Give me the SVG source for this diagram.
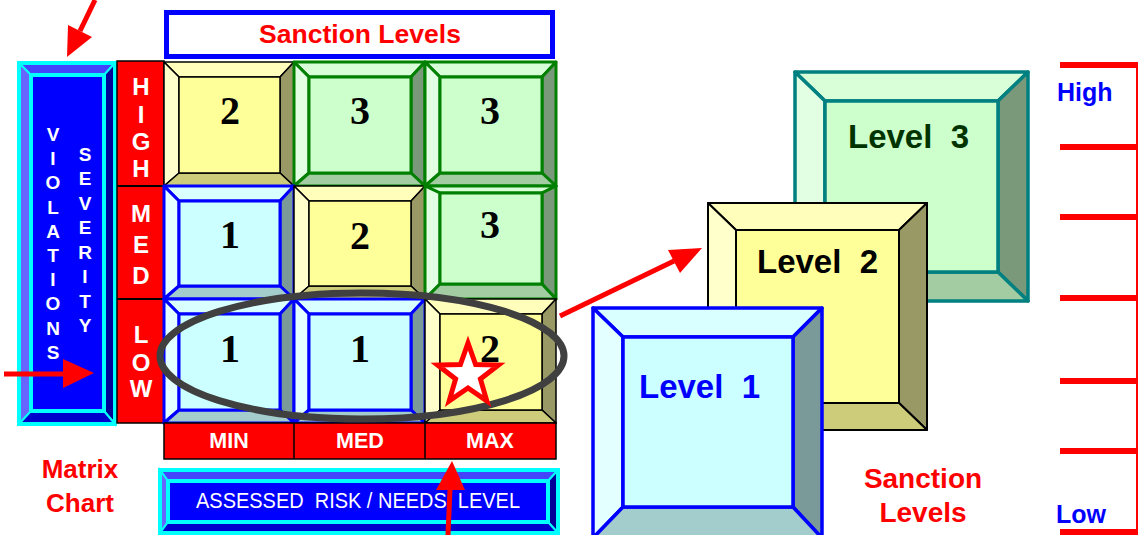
<svg xmlns="http://www.w3.org/2000/svg" width="1138" height="535" viewBox="0 0 1138 535">
<style>
.sans{font-family:"Liberation Sans",Arial,sans-serif;font-weight:bold}
.serif{font-family:"Liberation Serif","Times New Roman",serif;font-weight:bold;font-size:40px;text-anchor:middle;fill:#000}
.wl{fill:#fff;font-size:21.5px;text-anchor:middle}
.yel polygon,.yel rect{stroke:#000;stroke-width:1.5;stroke-linejoin:round}
.yel .t{fill:#FFFFBB}.yel .l{fill:#FFFFCC}.yel .r{fill:#999966}.yel .b{fill:#CCCC7A}.yel .i{fill:#FFFF99}
.grn polygon,.grn rect{stroke:#008000;stroke-width:3;stroke-linejoin:round}
.grn .t,.teal .t{fill:#D9FFD9}.grn .l,.teal .l{fill:#E3FFE3}.grn .r,.teal .r{fill:#7A997A}.grn .b,.teal .b{fill:#A3CCA3}.grn .i,.teal .i{fill:#CCFFCC}
.teal polygon,.teal rect{stroke:#008080;stroke-width:3.5;stroke-linejoin:round}
.blu polygon,.blu rect{stroke:#0000FF;stroke-width:3;stroke-linejoin:round}
.blu .t{fill:#D9FFFF}.blu .l{fill:#E3FFFF}.blu .r{fill:#7A9999}.blu .b{fill:#A3CCCC}.blu .i{fill:#CCFFFF}
.navy polygon{stroke:#00FFFF;stroke-width:2}
.navy .t{fill:#4444FF}.navy .l{fill:#6666FF}.navy .r{fill:#000099}.navy .b{fill:#0000CC}
.navy rect{stroke:#00FFFF;stroke-width:4}
.red{fill:#FF0000}
.arrow{stroke:#FF0000;stroke-width:5;fill:none}
.head{fill:#FF0000}
.tick{fill:#FF0000}
</style>

<g id="violations-severity" class="navy">
  <polygon class="t" points="19,63 115,63 104,75 31,75"/>
  <polygon class="l" points="19,63 31,75 31,411 19,424"/>
  <polygon class="r" points="115,63 115,424 104,411 104,75"/>
  <polygon class="b" points="19,424 31,411 104,411 115,424"/>
  <rect x="19" y="63" width="96" height="361" fill="none"/>
  <rect x="31" y="75" width="73" height="336" fill="#0000FF"/>
  <g class="sans" fill="#fff" font-size="19" text-anchor="middle">
    <text x="53" y="141">V</text><text x="53" y="165">I</text><text x="53" y="189">O</text><text x="53" y="214">L</text><text x="53" y="238">A</text><text x="53" y="262">T</text><text x="53" y="286">I</text><text x="53" y="310">O</text><text x="53" y="335">N</text><text x="53" y="359">S</text>
    <text x="85" y="161">S</text><text x="85" y="185">E</text><text x="85" y="210">V</text><text x="85" y="234">E</text><text x="85" y="259">R</text><text x="85" y="283">I</text><text x="85" y="308">T</text><text x="85" y="332">Y</text>
  </g>
</g>

<g id="severity-levels">
  <rect x="117" y="61" width="47" height="362" fill="#FF0000" stroke="#000" stroke-width="1.5"/>
  <line x1="117" y1="186" x2="164" y2="186" stroke="#000" stroke-width="2"/>
  <line x1="117" y1="299" x2="164" y2="299" stroke="#000" stroke-width="2"/>
  <g class="sans" fill="#fff" font-size="24" text-anchor="middle">
    <text x="141" y="95">H</text><text x="141" y="123">I</text><text x="141" y="150">G</text><text x="141" y="177">H</text>
    <text x="141" y="222">M</text><text x="141" y="253">E</text><text x="141" y="284">D</text>
    <text x="141" y="343">L</text><text x="141" y="371">O</text><text x="141" y="397">W</text>
  </g>
</g>

<g id="sanction-title">
  <rect x="166.5" y="12.5" width="386" height="44" fill="#fff" stroke="#0000FF" stroke-width="5"/>
  <text class="sans red" x="360" y="43" font-size="26.5" text-anchor="middle">Sanction Levels</text>
</g>

<g id="cell-r1c1" class="yel">
  <polygon class="t" points="164,62 294,62 280,77 179,77"/><polygon class="l" points="164,62 179,77 179,173 164,186"/>
  <polygon class="r" points="294,62 294,186 280,173 280,77"/><polygon class="b" points="164,186 179,173 280,173 294,186"/>
  <rect class="i" x="179" y="77" width="101" height="96"/>
  <text class="serif" x="230" y="124">2</text>
</g>
<g id="cell-r1c2" class="grn">
  <polygon class="t" points="294,62 425,62 411,77 309,77"/><polygon class="l" points="294,62 309,77 309,173 294,186"/>
  <polygon class="r" points="425,62 425,186 411,173 411,77"/><polygon class="b" points="294,186 309,173 411,173 425,186"/>
  <rect class="i" x="309" y="77" width="102" height="96"/>
  <text class="serif" x="360" y="124">3</text>
</g>
<g id="cell-r1c3" class="grn">
  <polygon class="t" points="425,62 556,62 542,77 440,77"/><polygon class="l" points="425,62 440,77 440,173 425,186"/>
  <polygon class="r" points="556,62 556,186 542,173 542,77"/><polygon class="b" points="425,186 440,173 542,173 556,186"/>
  <rect class="i" x="440" y="77" width="102" height="96"/>
  <text class="serif" x="490" y="124">3</text>
</g>
<g id="cell-r2c1" class="blu">
  <polygon class="t" points="164,186 294,186 280,201 179,201"/><polygon class="l" points="164,186 179,201 179,286 164,299"/>
  <polygon class="r" points="294,186 294,299 280,286 280,201"/><polygon class="b" points="164,299 179,286 280,286 294,299"/>
  <rect class="i" x="179" y="201" width="101" height="85"/>
  <text class="serif" x="230" y="248">1</text>
</g>
<g id="cell-r2c2" class="yel">
  <polygon class="t" points="294,186 425,186 411,201 309,201"/><polygon class="l" points="294,186 309,201 309,286 294,299"/>
  <polygon class="r" points="425,186 425,299 411,286 411,201"/><polygon class="b" points="294,299 309,286 411,286 425,299"/>
  <rect class="i" x="309" y="201" width="102" height="85"/>
  <text class="serif" x="360" y="249">2</text>
</g>
<g id="cell-r2c3" class="grn">
  <polygon class="t" points="425,186 556,186 542,193 440,193"/><polygon class="l" points="425,186 440,193 440,284 425,299"/>
  <polygon class="r" points="556,186 556,299 542,284 542,193"/><polygon class="b" points="425,299 440,284 542,284 556,299"/>
  <rect class="i" x="440" y="193" width="102" height="91"/>
  <text class="serif" x="490" y="238">3</text>
</g>
<g id="cell-r3c1" class="blu">
  <polygon class="t" points="164,299 294,299 280,314 179,314"/><polygon class="l" points="164,299 179,314 179,410 164,423"/>
  <polygon class="r" points="294,299 294,423 280,410 280,314"/><polygon class="b" points="164,423 179,410 280,410 294,423"/>
  <rect class="i" x="179" y="314" width="101" height="96"/>
  <text class="serif" x="230" y="362">1</text>
</g>
<g id="cell-r3c2" class="blu">
  <polygon class="t" points="294,299 425,299 411,314 309,314"/><polygon class="l" points="294,299 309,314 309,410 294,423"/>
  <polygon class="r" points="425,299 425,423 411,410 411,314"/><polygon class="b" points="294,423 309,410 411,410 425,423"/>
  <rect class="i" x="309" y="314" width="102" height="96"/>
  <text class="serif" x="360" y="362">1</text>
</g>
<g id="cell-r3c3" class="yel">
  <polygon class="t" points="425,299 556,299 542,314 440,314"/><polygon class="l" points="425,299 440,314 440,410 425,423"/>
  <polygon class="r" points="556,299 556,423 542,410 542,314"/><polygon class="b" points="425,423 440,410 542,410 556,423"/>
  <rect class="i" x="440" y="314" width="102" height="96"/>
  <text class="serif" x="490" y="362">2</text>
</g>

<g id="risk-levels">
  <rect x="164" y="423" width="392" height="36" fill="#FF0000" stroke="#000" stroke-width="1.5"/>
  <line x1="294" y1="423" x2="294" y2="459" stroke="#000" stroke-width="1.5"/>
  <line x1="425" y1="423" x2="425" y2="459" stroke="#000" stroke-width="1.5"/>
  <text class="sans wl" x="229" y="448">MIN</text>
  <text class="sans wl" x="360" y="448">MED</text>
  <text class="sans wl" x="490" y="448">MAX</text>
</g>

<g id="assessed-risk" class="navy">
  <polygon class="t" points="160,470 558,470 548,481 168,481"/>
  <polygon class="l" points="160,470 168,481 168,522 160,533"/>
  <polygon class="r" points="558,470 558,533 548,522 548,481"/>
  <polygon class="b" points="160,533 168,522 548,522 558,533"/>
  <rect x="160" y="470" width="398" height="63" fill="none"/>
  <rect x="168" y="481" width="380" height="41" fill="#0000FF"/>
  <text x="358" y="508" font-family="Liberation Sans,Arial,sans-serif" font-size="22" fill="#fff" text-anchor="middle" xml:space="preserve" textLength="324" lengthAdjust="spacingAndGlyphs">ASSESSED  RISK / NEEDS  LEVEL</text>
</g>

<g id="matrix-label">
  <text class="sans red" font-size="26" text-anchor="middle"><tspan x="80" y="478">Matrix</tspan><tspan x="80" y="512">Chart</tspan></text>
</g>

<g id="highlight">
  <ellipse cx="362" cy="356" rx="202" ry="63" fill="none" stroke="#404040" stroke-width="7"/>
  <polygon points="468,343 475.6,364.5 498.4,365.1 480.4,379 486.8,400.9 468,388 449.2,400.9 455.6,379 437.6,365.1 460.4,364.5" fill="#fff" stroke="#FF0000" stroke-width="5" stroke-linejoin="miter"/>
</g>

<g id="level-3" class="teal">
  <polygon class="t" points="795,72 1028,72 998,101 825,101"/><polygon class="l" points="795,72 825,101 825,272 795,301"/>
  <polygon class="r" points="1028,72 1028,301 998,272 998,101"/><polygon class="b" points="795,301 825,272 998,272 1028,301"/>
  <rect class="i" x="825" y="101" width="173" height="171"/>
  <text class="sans" x="848" y="148" font-size="33" fill="#003300" xml:space="preserve">Level  3</text>
</g>
<g id="level-2" class="yel">
  <polygon class="t" points="708,203 927,203 899,230 736,230" style="stroke-width:2"/><polygon class="l" points="708,203 736,230 736,403 708,430" style="stroke-width:2"/>
  <polygon class="r" points="927,203 927,430 899,403 899,230" style="stroke-width:2"/><polygon class="b" points="708,430 736,403 899,403 927,430" style="stroke-width:2"/>
  <rect class="i" x="736" y="230" width="163" height="173" style="stroke-width:2"/>
  <text class="sans" x="757" y="273" font-size="33" fill="#000" xml:space="preserve">Level  2</text>
</g>
<g id="level-1" class="blu">
  <polygon class="t" points="593,308 822,308 793,337 623,337" style="stroke-width:3.5"/><polygon class="l" points="593,308 623,337 623,507 593,538" style="stroke-width:3.5"/>
  <polygon class="r" points="822,308 822,538 793,507 793,337" style="stroke-width:3.5"/><polygon class="b" points="593,538 623,507 793,507 822,538" style="stroke-width:3.5"/>
  <rect class="i" x="623" y="337" width="170" height="170" style="stroke-width:3.5"/>
  <text class="sans" x="639" y="398" font-size="33" fill="#0000FF" xml:space="preserve">Level  1</text>
</g>

<g id="sanction-label">
  <text class="sans red" font-size="28" text-anchor="middle"><tspan x="923" y="488">Sanction</tspan><tspan x="923" y="522">Levels</tspan></text>
</g>

<g id="scale">
  <rect x="1136" y="62" width="2" height="473" fill="#FF0000"/>
  <rect class="tick" x="1060" y="62" width="78" height="6"/>
  <rect class="tick" x="1060" y="144" width="78" height="6"/>
  <rect class="tick" x="1060" y="214" width="78" height="6"/>
  <rect class="tick" x="1060" y="295" width="78" height="6"/>
  <rect class="tick" x="1060" y="378" width="78" height="6"/>
  <rect class="tick" x="1060" y="448" width="78" height="6"/>
  <rect class="tick" x="1060" y="529" width="78" height="6"/>
  <text class="sans" x="1057" y="101" font-size="25" fill="#0000FF">High</text>
  <text class="sans" x="1056" y="523" font-size="25" fill="#0000FF">Low</text>
</g>

<g id="connectors">
  <line class="arrow" x1="95" y1="0" x2="80" y2="31"/>
  <polygon class="head" points="67,57 68,25 92,37"/>
  <line class="arrow" x1="4" y1="374" x2="64" y2="374"/>
  <polygon class="head" points="94,373 63,359 63,388"/>
  <line class="arrow" x1="560" y1="316" x2="674" y2="261"/>
  <polygon class="head" points="702,248 668,250 680,273"/>
  <line class="arrow" x1="448" y1="535" x2="450" y2="489"/>
  <polygon class="head" points="452,461 436,490 465,490"/>
</g>
</svg>
